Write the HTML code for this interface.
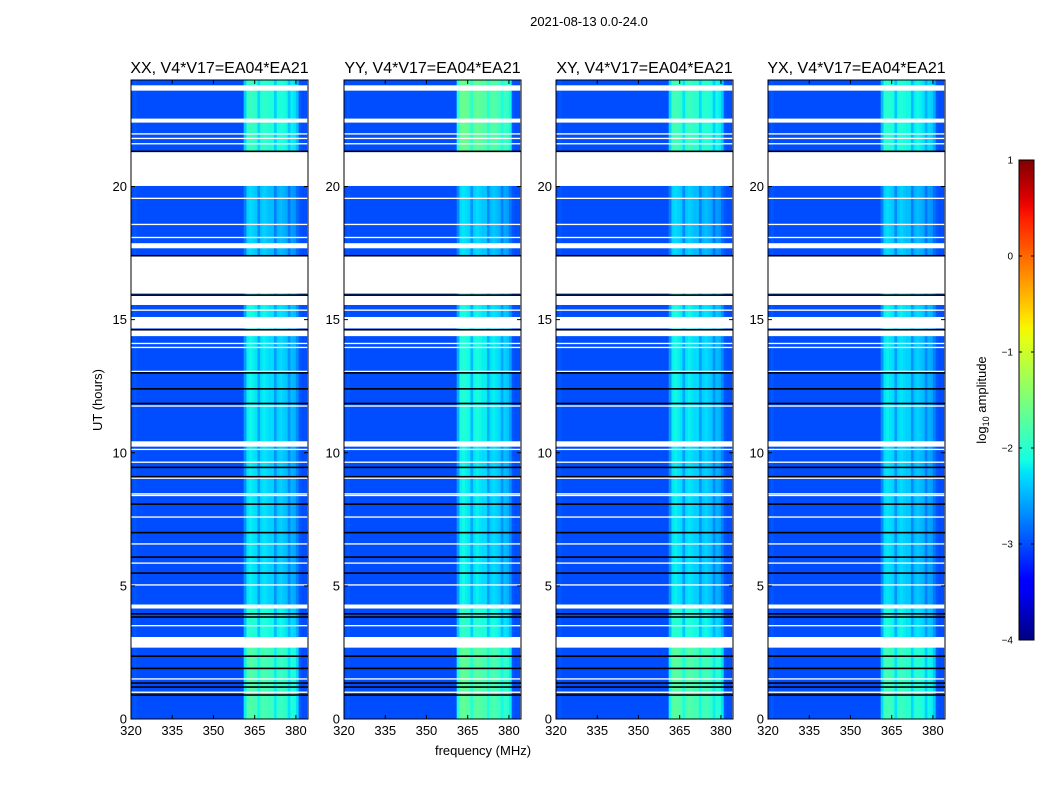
<!DOCTYPE html>
<html><head><meta charset="utf-8"><style>
body{margin:0;background:#fff;}
svg text{font-family:"Liberation Sans",sans-serif;}
</style></head><body>
<svg id="fig" width="1050" height="800" xmlns="http://www.w3.org/2000/svg">
<rect width="1050" height="800" fill="#fff"/>
<text x="589" y="26" font-size="13" text-anchor="middle">2021-08-13 0.0-24.0</text>
<text x="483" y="755" font-size="13" text-anchor="middle">frequency (MHz)</text>
<text x="102" y="400" font-size="13" text-anchor="middle" transform="rotate(-90 102 400)">UT (hours)</text>
<text x="986" y="400" font-size="13" text-anchor="middle" transform="rotate(-90 986 400)">log<tspan font-size="9" dy="3">10</tspan><tspan dy="-3"> amplitude</tspan></text>
</svg>
<script>
// ---- data ----
const pols = ["XX, V4*V17=EA04*EA21","YY, V4*V17=EA04*EA21","XY, V4*V17=EA04*EA21","YX, V4*V17=EA04*EA21"];
const chanFreq0 = 320; // MHz, 1 MHz channels
const chanLevel = [-3.0,-2.95,-3.0,-3.0,-3.0,-3.0,-3.0,-3.0,-3.0,-3.0,
 -3.0,-3.0,-3.0,-3.0,-3.0,-3.0,-3.0,-3.0,-3.0,-3.0,
 -3.0,-3.0,-3.0,-3.0,-3.0,-3.0,-3.0,-3.0,-3.0,-3.0,
 -3.0,-3.0,-3.0,-3.0,-3.0,-3.0,-3.0,-3.0,-3.0,-3.0,
 -3.0,-2.75,-2.35,-2.3,-2.35,-2.4,-2.7,-2.4,-2.35,-2.4,
 -2.45,-2.45,-2.75,-2.5,-2.45,-2.5,-2.55,-2.8,-2.6,-2.65,
 -2.85,-2.95,-3.0,-3.0];
const segStart = [0, 2.7, 4.3, 10.4, 14.6, 17.4, 21.3];
const segEnd   = [2.7, 4.3, 10.4, 14.6, 17.4, 21.3, 24];
const boostXX = [0.55, 0.3, 0.1, 0.15, 0.2, 0.0, 0.4];
const boostYY = [0.65, 0.35, 0.15, 0.25, 0.2, 0.05, 0.7];
const boostXY = [0.6, 0.3, 0.1, 0.15, 0.2, 0.0, 0.45];
const boostYX = [0.45, 0.2, 0.05, 0.1, 0.15, 0.0, 0.3];
const boosts = [boostXX, boostYY, boostXY, boostYX];
const whiteStart = [23.6,22.4,21.95,21.78,21.58,20.02,19.53,18.55,18.06,17.68,15.98,15.55,15.33,14.67,14.38,14.08,13.93,13.03,11.73,10.23,10.1,9.62,9.02,8.43,8.37,7.56,6.55,5.83,5.01,4.15,3.48,2.68,1.48,0.98];
const whiteEnd   = [23.8,22.55,22.0,21.83,21.63,21.3,19.58,18.6,18.11,17.87,17.38,15.9,15.38,15.1,14.6,14.13,13.98,13.08,11.78,10.43,10.15,9.67,9.07,8.48,8.42,7.61,6.6,5.88,5.06,4.3,3.53,3.08,1.53,1.03];
const blackLines = [21.32,17.4,13.0,12.4,11.85,9.45,9.1,8.07,7.0,6.08,5.48,3.95,3.83,2.36,1.9,1.35,1.2,0.9,15.92,14.62];
const yTicks = [0,5,10,15,20];
const xTicks = [320,335,350,365,380];
const cbTicks = [1,0,-1,-2,-3,-4];
const cbLabels = ["1","0","\u22121","\u22122","\u22123","\u22124"];

// ---- helpers ----
const NS="http://www.w3.org/2000/svg";
const svg=document.getElementById('fig');
function mk(tag,attrs,parent){const e=document.createElementNS(NS,tag);for(const k in attrs)e.setAttribute(k,attrs[k]);(parent||svg).appendChild(e);return e;}
function interp(pts,v){for(let i=0;i<pts.length-1;i++){if(v<=pts[i+1][0]){const t=(v-pts[i][0])/(pts[i+1][0]-pts[i][0]);return pts[i][1]+t*(pts[i+1][1]-pts[i][1]);}}return pts[pts.length-1][1];}
const R=[[0,0],[0.35,0],[0.66,1],[0.89,1],[1,0.5]],G=[[0,0],[0.125,0],[0.375,1],[0.64,1],[0.91,0],[1,0]],B=[[0,0.5],[0.11,1],[0.34,1],[0.65,0],[1,0]];
function jet(f){f=Math.max(0,Math.min(1,f));return `rgb(${Math.round(interp(R,f)*255)},${Math.round(interp(G,f)*255)},${Math.round(interp(B,f)*255)})`;}
const vmin=-4,vmax=1;
const panelX=[131,344,556,768],panelW=177,pTop=80,pBot=719;
const fmin=320,fmax=384.4;
function yH(h){return pBot-(h/24)*(pBot-pTop);}

pols.forEach((title,p)=>{
  const x0=panelX[p];
  const xF=f=>x0+(f-fmin)/(fmax-fmin)*panelW;
  const g=mk('g',{});
  
  
  const bo=boosts[p];
  segStart.forEach((s,si)=>{
    chanLevel.forEach((lv,ci)=>{
      const f=chanFreq0+ci;
      const band = lv>-2.9?1:0;
      const v=lv+bo[si]*band;
      const xa=xF(f), xb=Math.min(xF(f+1),x0+panelW);
      const r=mk('rect',{x:xa,y:yH(segEnd[si]),width:xb-xa+0.3,height:yH(segStart[si])-yH(segEnd[si]),fill:jet((v-vmin)/(vmax-vmin))},g);
      
      
    });
  });
  whiteStart.forEach((s,i)=>{
    const r=mk('rect',{x:x0,y:yH(whiteEnd[i]),width:panelW,height:Math.max(1.3,yH(s)-yH(whiteEnd[i])),fill:'#fff'},g);
    
    
  });
  blackLines.forEach(h=>{
    const r=mk('rect',{x:x0,y:yH(h)-0.8,width:panelW,height:1.6,fill:'#000'},g);
    
    
  });
  const fr=mk('rect',{x:x0,y:pTop,width:panelW,height:pBot-pTop,fill:'none',stroke:'#000','stroke-width':1},g);
  
  
  yTicks.forEach(t=>{
    const y=yH(t);
    mk('line',{x1:x0,x2:x0+4,y1:y,y2:y,stroke:'#000'},g);
    mk('line',{x1:x0+panelW-4,x2:x0+panelW,y1:y,y2:y,stroke:'#000'},g);
    const tx=mk('text',{x:x0-4,y:y+4.5,'font-size':13,'text-anchor':'end'},g);
    tx.textContent=t;
    
    
  });
  xTicks.forEach(t=>{
    const x=xF(t);
    mk('line',{x1:x,x2:x,y1:pBot,y2:pBot-4,stroke:'#000'},g);
    mk('line',{x1:x,x2:x,y1:pTop,y2:pTop+4,stroke:'#000'},g);
    const tx=mk('text',{x:x,y:pBot+16,'font-size':13,'text-anchor':'middle'},g);
    tx.textContent=t;
    
    
  });
  const tt=mk('text',{x:x0+panelW/2,y:73,'font-size':16,'text-anchor':'middle'},g);
  tt.textContent=title;
  
  
});

// colorbar
const cbx=1019,cbw=15,cbt=160,cbb=640;
const defs=mk('defs',{});
const lg=mk('linearGradient',{id:'jetg',x1:0,y1:1,x2:0,y2:0},defs);
for(let i=0;i<=40;i++){mk('stop',{offset:i/40,'stop-color':jet(i/40)},lg);}
const cb=mk('rect',{x:cbx,y:cbt,width:cbw,height:cbb-cbt,fill:'url(#jetg)',stroke:'#000','stroke-width':1});


cbTicks.forEach((v,i)=>{
  const y=cbb-(v-vmin)/(vmax-vmin)*(cbb-cbt);
  mk('line',{x1:cbx,x2:cbx+3,y1:y,y2:y,stroke:'#000'});
  mk('line',{x1:cbx+cbw-3,x2:cbx+cbw,y1:y,y2:y,stroke:'#000'});
  const tx=mk('text',{x:cbx-6,y:y+3.5,'font-size':10,'text-anchor':'end'});
  tx.textContent=cbLabels[i];
  
  
});
</script>
</body></html>
